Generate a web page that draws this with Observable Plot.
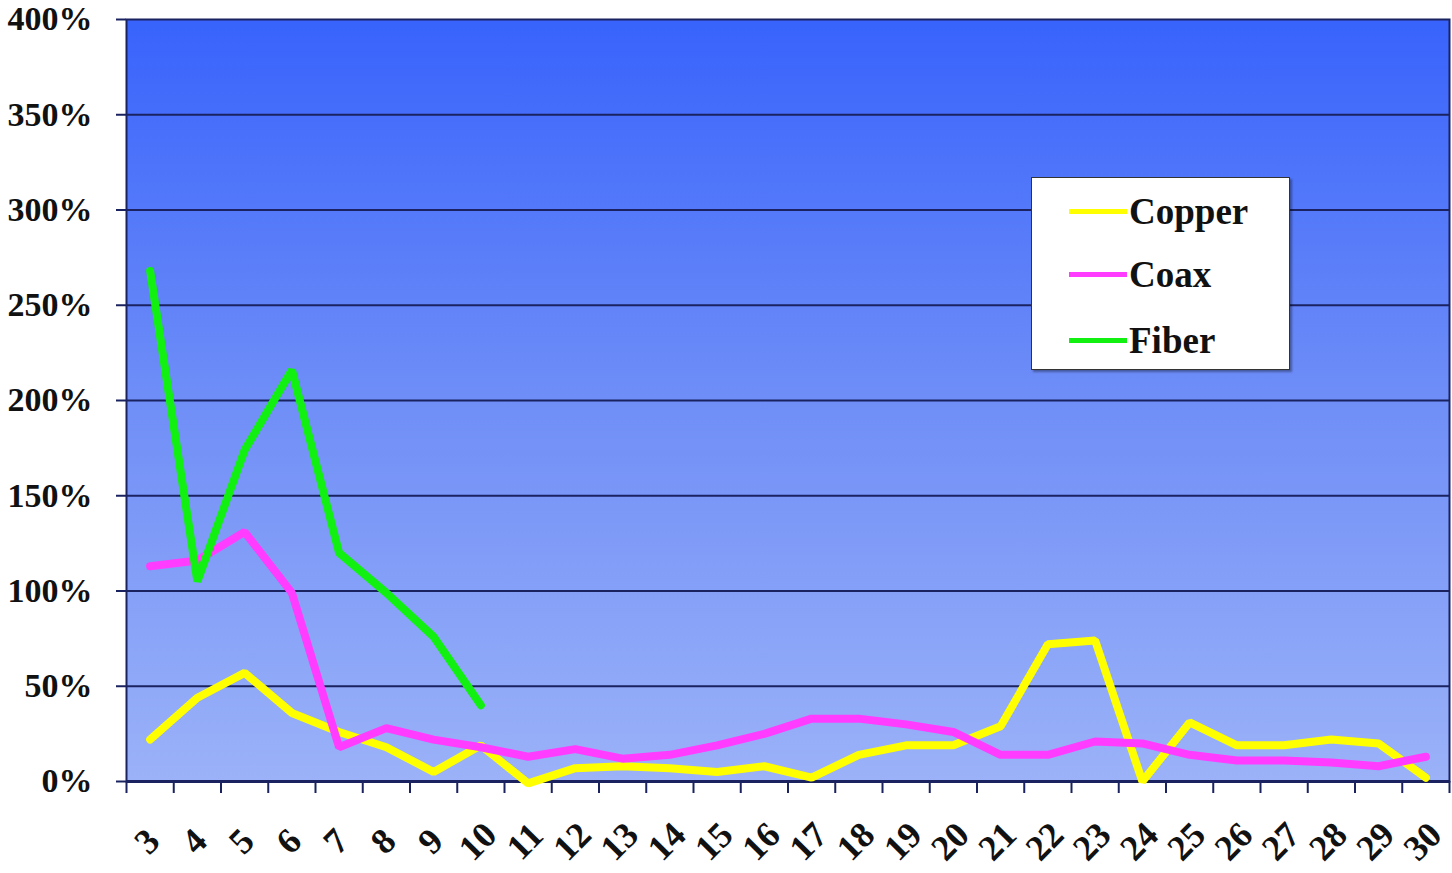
<!DOCTYPE html>
<html>
<head>
<meta charset="utf-8">
<script src="https://cdn.jsdelivr.net/npm/d3@7"></script>
<script src="https://cdn.jsdelivr.net/npm/@observablehq/plot@0.6"></script>
<style>
  html, body { margin: 0; padding: 0; background: #fff; }
  #wrap { position: relative; width: 1452px; height: 873px; }
  #legend {
    position: absolute; left: 1031px; top: 177px; width: 257px; height: 191px;
    background: #fff; border: 1px solid #333; box-shadow: 2px 2px 2px rgba(0,0,0,0.35);
    font-family: "Liberation Serif", "Times New Roman", serif; font-weight: bold; font-size: 37px; color: #111;
  }
  .row { position: absolute; left: 37px; height: 44px; display: flex; align-items: center; }
  .sw { width: 58px; height: 5px; margin-right: 2px; }
</style>
</head>
<body>
<div id="wrap"></div>
<script>
const categories = [3,4,5,6,7,8,9,10,11,12,13,14,15,16,17,18,19,20,21,22,23,24,25,26,27,28,29,30];
const tickLabels = categories.map(String);
const copper = [22,44,57,36,26,18,5,19,-1,7,8,7,5,8,2,14,19,19,29,72,74,0,31,19,19,22,20,2];
const coax   = [113,116,131,99,18,28,22,18,13,17,12,14,19,25,33,33,30,26,14,14,21,20,14,11,11,10,8,13];
const fiber  = [268,105,174,216,120,99,76,40];
const seriesNames = ["Copper","Coax","Fiber"];
const seriesColors = ["#ffff00","#ff3cff","#11f011"];
const yTicks = [0,50,100,150,200,250,300,350,400];

const rows = [];
[copper, coax, fiber].forEach((vals, s) => vals.forEach((v, i) => rows.push({series: seriesNames[s], cat: categories[i], value: v})));
const boundaries = categories.map(c => c - 0.5).concat([categories[categories.length-1] + 0.5]);
const navy = "#1a2360";

const chart = Plot.plot({
  width: 1452, height: 873,
  marginLeft: 126, marginRight: 3, marginTop: 19, marginBottom: 92,
  x: {type: "linear", domain: [categories[0]-0.5, categories[categories.length-1]+0.5], axis: null},
  y: {domain: [0, 400], axis: null},
  color: {domain: seriesNames, range: seriesColors},
  style: {fontFamily: "'Liberation Serif', 'Times New Roman', serif", background: "#fff"},
  marks: [
    Plot.frame({fill: "url(#bgGrad)", stroke: "none"}),
    Plot.gridY(yTicks.slice(1, -1), {stroke: navy, strokeOpacity: 1, strokeWidth: 2}),
    Plot.frame({stroke: navy, strokeWidth: 2}),
    Plot.axisY(yTicks, {tickSize: 10, tickPadding: 24, tickFormat: d => d + "%", fontSize: 34, fontWeight: "bold", stroke: navy, strokeWidth: 2, fill: "#111", label: null}),
    Plot.ruleX(boundaries, {x: d => d, y1: 0, y2: 0, insetBottom: -12, stroke: navy, strokeWidth: 2}),
    Plot.ruleY([0], {stroke: navy, strokeWidth: 3}),
    Plot.line(rows, {x: "cat", y: "value", z: "series", stroke: "series", strokeWidth: 8, strokeLinejoin: "miter"}),
    Plot.text(categories, {x: d => d, y: 0, text: (d, i) => tickLabels[i], rotate: -45, dy: 60, dx: -3, textAnchor: "middle", fontSize: 36, fontWeight: "bold", fill: "#111"})
  ]
});

// gradient background definition
const defs = d3.select(chart).insert("defs", ":first-child");
const g = defs.append("linearGradient").attr("id", "bgGrad").attr("x1", 0).attr("y1", 0).attr("x2", 0).attr("y2", 1);
g.append("stop").attr("offset", "0%").attr("stop-color", "#3863fc");
g.append("stop").attr("offset", "50%").attr("stop-color", "#6f8ef7");
g.append("stop").attr("offset", "100%").attr("stop-color", "#9bb2f8");

const wrap = document.getElementById("wrap");
wrap.appendChild(chart);

// legend
const legend = document.createElement("div");
legend.id = "legend";
const rowTops = [11, 74, 140];
seriesNames.forEach((name, i) => {
  const r = document.createElement("div");
  r.className = "row";
  r.style.top = rowTops[i] + "px";
  const sw = document.createElement("div");
  sw.className = "sw";
  sw.style.background = seriesColors[i];
  const t = document.createElement("span");
  t.textContent = name;
  r.appendChild(sw); r.appendChild(t);
  legend.appendChild(r);
});
wrap.appendChild(legend);
</script>
</body>
</html>
